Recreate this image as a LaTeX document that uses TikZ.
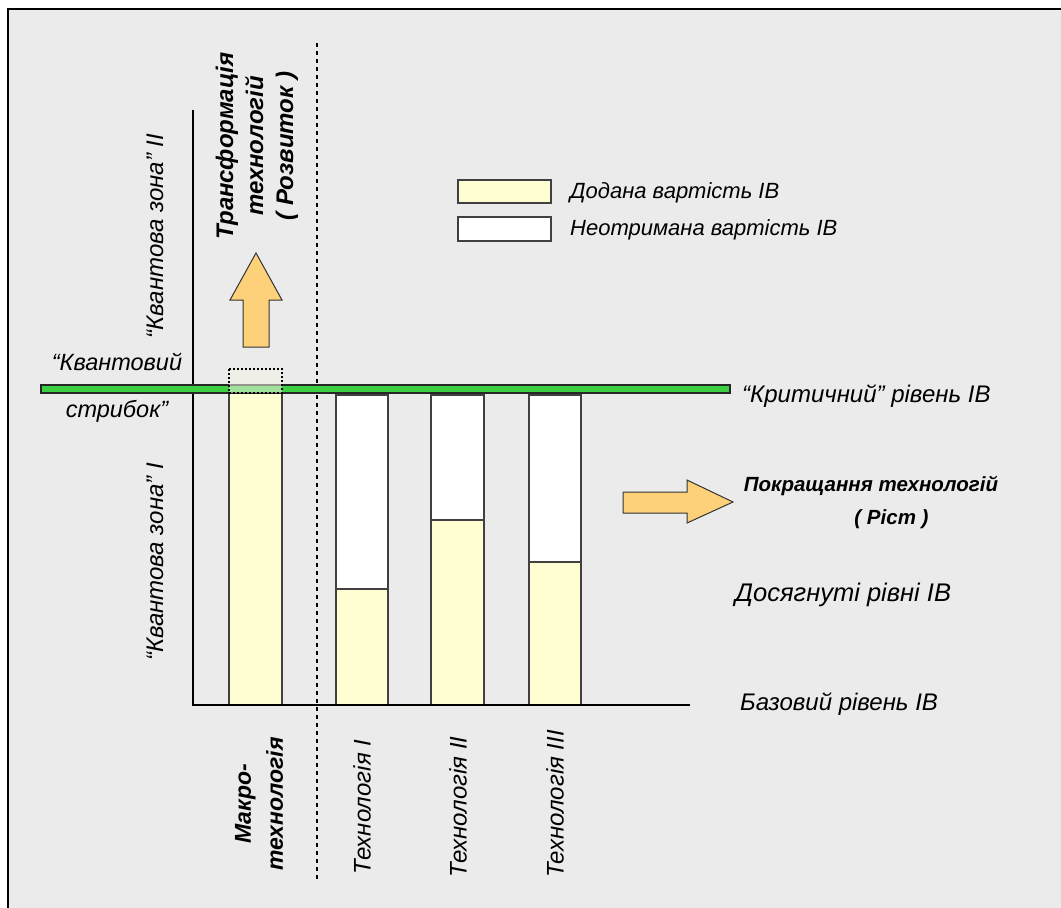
\documentclass[tikz,border=0pt]{standalone}
\usepackage{fontspec}
\setmainfont{Liberation Sans}
\definecolor{bg}{HTML}{EBEBEB}
\definecolor{barY}{HTML}{FFFED3}
\definecolor{grn}{HTML}{3CCF44}
\definecolor{org}{HTML}{FDD17A}
\definecolor{bord}{HTML}{404040}
\definecolor{ghost}{HTML}{F4F2E4}
\begin{document}
\begin{tikzpicture}[x=1pt,y=-1pt,
  lbl/.style={font=\fontsize{24}{28}\selectfont\itshape, inner sep=0},
  leglbl/.style={font=\fontsize{22}{26}\selectfont\itshape, inner sep=0},
  rlbl/.style={font=\fontsize{24}{32}\selectfont\itshape, inner sep=0, rotate=90, align=center},
  blbl/.style={font=\fontsize{20}{30}\selectfont\bfseries\itshape, inner sep=0, align=center},
  barbox/.style={draw=bord, line width=1.3pt},
  axisline/.style={line width=2.4pt, black},
  fatarrow/.style={fill=org, draw=black!80, line width=1pt, line join=miter},
  divider/.style={line width=2pt, dash pattern=on 4pt off 4pt}]
\useasboundingbox (0,0) rectangle (1061,908);
% frame
\fill[bg] (8,9) rectangle (1061,908);
\draw[line width=1.2pt] (8,908) -- (8,9) -- (1061,9);

% divider
\draw[divider] (317,43) -- (317,880);

% bars
\fill[barY] (229,393) rectangle (282,705);
\draw[barbox] (229,393) rectangle (282,705);

\fill[white] (336,395) rectangle (388,589);
\fill[barY] (336,589) rectangle (388,705);
\draw[barbox] (336,395) rectangle (388,705);
\draw[barbox] (336,589) -- (388,589);

\fill[white] (431,395) rectangle (484,520);
\fill[barY] (431,520) rectangle (484,705);
\draw[barbox] (431,395) rectangle (484,705);
\draw[barbox] (431,520) -- (484,520);

\fill[white] (529,395) rectangle (581,562);
\fill[barY] (529,562) rectangle (581,705);
\draw[barbox] (529,395) rectangle (581,705);
\draw[barbox] (529,562) -- (581,562);

% axes
\draw[axisline] (193,110) -- (193,705) -- (690,705);

% critical level
\draw[fill=grn, draw=black!85, line width=1.2pt] (41,385) rectangle (730,393);
% ghost extension of macro bar
\draw[fill=ghost, fill opacity=0.55, draw=black, line width=1.2pt, dash pattern=on 2pt off 2pt] (229,369) rectangle (282,393);

% arrows
\draw[fatarrow] (243,347) -- (243,300) -- (230,300) -- (256,253) -- (282,300) -- (269,300) -- (269,347) -- cycle;
\draw[fatarrow] (623,492) -- (687,492) -- (687,480) -- (733,502) -- (687,523) -- (687,513) -- (623,513) -- cycle;

% legend
\draw[fill=barY, draw=bord, line width=1.2pt] (458,180) rectangle (551,203);
\draw[fill=white, draw=bord, line width=1.2pt] (458,217) rectangle (551,241);
\node[leglbl, anchor=west] (legA) at (570,193) {Додана вартість ІВ};
\node[leglbl, anchor=west] (legB) at (570,230) {Неотримана вартість ІВ};

% labels
\node[blbl, rotate=90, font=\fontsize{24}{30}\selectfont\bfseries\itshape] (transf) at (257,146) {Трансформація\\технологій\\( Розвиток )};
\node[rlbl] (zone2) at (155,236) {“Квантова зона” ІІ};
\node[rlbl] (zone1) at (155,562) {“Квантова зона” І};
\node[lbl, font=\fontsize{23.5}{28}\selectfont\itshape, anchor=base] (jump1) at (117,370) {“Квантовий};
\node[lbl, font=\fontsize{23.5}{28}\selectfont\itshape, anchor=base] (jump2) at (117,417) {стрибок”};
\node[lbl, anchor=west] (crit) at (742,396) {“Критичний” рівень ІВ};
\node[blbl, font=\fontsize{20.5}{33}\selectfont\bfseries\itshape, anchor=north] (improve) at (871,476) {Покращання технологій\\\hspace*{2em}( Ріст )};
\node[lbl, font=\fontsize{25.5}{28}\selectfont\itshape, anchor=west] (reached) at (735,595) {Досягнуті рівні ІВ};
\node[lbl, anchor=west] (base) at (740,704) {Базовий рівень ІВ};

\node[blbl, rotate=90, font=\fontsize{23}{32}\selectfont\bfseries\itshape] (macro) at (259,804) {Макро-\\технологія};
\node[rlbl] (t1) at (362,807) {Технологія І};
\node[rlbl] (t2) at (458,807) {Технологія ІІ};
\node[rlbl] (t3) at (555,804) {Технологія ІІІ};
\end{tikzpicture}
\end{document}
